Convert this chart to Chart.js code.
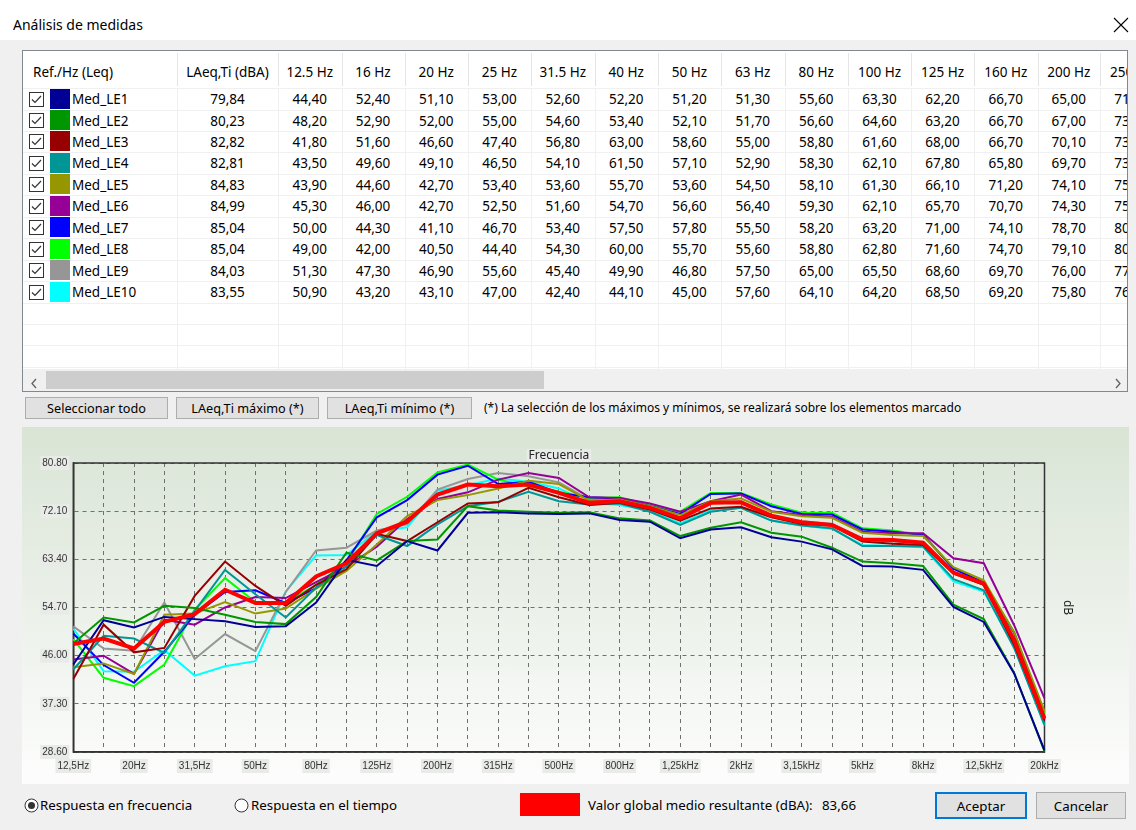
<!DOCTYPE html>
<html lang="es">
<head>
<meta charset="utf-8">
<title>Análisis de medidas</title>
<script src="https://cdn.jsdelivr.net/npm/chart.js@4.4.1/dist/chart.umd.min.js"></script>
<style>
  body { margin: 0; width: 1136px; height: 830px; background: #f0f0f0; font-family: "Noto Sans", sans-serif; color: #000; position: relative; overflow: hidden; }
  .abs { position: absolute; white-space: nowrap; }
  #titlebar { left: 0; top: 0; width: 1136px; height: 40px; background: #fff; }
  #grid { left: 22px; top: 50px; width: 1104px; height: 340px; border: 1px solid #828790; background: #fff; overflow: hidden; font-size: 13.5px; }
  .btn { background: #e1e1e1; border: 1px solid #adadad; box-sizing: border-box; font-size: 12.7px; display: flex; align-items: center; justify-content: center; }
  #panel { left: 22px; top: 427px; width: 1107px; height: 357px; background: linear-gradient(#d9e4d5, #fdfdfd); }
  .lbl { font-size: 13.3px; line-height: 20px; }
</style>
</head>
<body>
<div id="titlebar" class="abs">
  <div class="abs" style="left:13px; top:15px; font-size:14px;">Análisis de medidas</div>
  <svg class="abs" style="left:1113px; top:17px;" width="16" height="16"><path d="M1 1 L15 15 M15 1 L1 15" stroke="#000" stroke-width="1.1"/></svg>
</div>

<div id="grid" class="abs"></div>

<div class="abs btn" style="left:25px; top:397px; width:143px; height:22px;">Seleccionar todo</div>
<div class="abs btn" style="left:176px; top:397px; width:143px; height:22px;">LAeq,Ti máximo (*)</div>
<div class="abs btn" style="left:327px; top:397px; width:145px; height:22px;">LAeq,Ti mínimo (*)</div>
<div class="abs" style="left:484px; top:399px; font-size:12px;">(*) La selección de los máximos y mínimos, se realizará sobre los elementos marcado</div>

<div id="panel" class="abs"><canvas id="chart" width="1107" height="357"></canvas></div>

<svg class="abs" style="left:24px; top:798px;" width="15" height="15"><circle cx="7.5" cy="7.5" r="6.5" fill="#fff" stroke="#333"/><circle cx="7.5" cy="7.5" r="3.5" fill="#333"/></svg>
<div class="abs lbl" style="left:40px; top:795px;">Respuesta en frecuencia</div>
<svg class="abs" style="left:234px; top:798px;" width="15" height="15"><circle cx="7.5" cy="7.5" r="6.5" fill="#fff" stroke="#333"/></svg>
<div class="abs lbl" style="left:251px; top:795px;">Respuesta en el tiempo</div>
<div class="abs" style="left:520px; top:793px; width:60px; height:23px; background:#ff0000;"></div>
<div class="abs lbl" id="avgLabel" style="left:588px; top:795px;"></div>
<div class="abs lbl" id="avgValue" style="left:822px; top:795px;"></div>
<div class="abs btn" style="left:935px; top:792px; width:92px; height:27px; border:2px solid #0078d7; font-size:13.3px;">Aceptar</div>
<div class="abs btn" style="left:1036px; top:792px; width:90px; height:27px; font-size:13.3px;">Cancelar</div>

<script>
// Bandas de tercio de octava
const freqLabels = ['12,5Hz', '16Hz', '20Hz', '25Hz', '31,5Hz', '40Hz', '50Hz', '63Hz', '80Hz', '100Hz',
  '125Hz', '160Hz', '200Hz', '250Hz', '315Hz', '400Hz', '500Hz', '630Hz', '800Hz', '1kHz', '1,25kHz',
  '1,6kHz', '2kHz', '2,5kHz', '3,15kHz', '4kHz', '5kHz', '6,3kHz', '8kHz', '10kHz', '12,5kHz', '16kHz', '20kHz'];
const tableBands = ['12.5 Hz', '16 Hz', '20 Hz', '25 Hz', '31.5 Hz', '40 Hz', '50 Hz', '63 Hz', '80 Hz',
  '100 Hz', '125 Hz', '160 Hz', '200 Hz', '250 Hz'];

const seriesNames = ['Med_LE1', 'Med_LE2', 'Med_LE3', 'Med_LE4', 'Med_LE5', 'Med_LE6', 'Med_LE7', 'Med_LE8', 'Med_LE9', 'Med_LE10'];
const seriesColors = ['#000096', '#009600', '#960000', '#009696', '#969600', '#960096', '#0000ff', '#00ff00', '#969696', '#00ffff'];
const laeqTi = [79.84, 80.23, 82.82, 82.81, 84.83, 84.99, 85.04, 85.04, 84.03, 83.55];

const le1 = [44.4, 52.4, 51.1, 53.0, 52.6, 52.2, 51.2, 51.3, 55.6, 63.3, 62.2, 66.7, 65.0, 71.8, 71.9, 71.7, 71.6, 71.7, 70.5, 70.2, 67.2, 68.8, 69.2, 67.4, 66.6, 65.2, 62.2, 62.1, 61.5, 54.8, 52.1, 42.8, 28.9];
const le2 = [48.2, 52.9, 52.0, 55.0, 54.6, 53.4, 52.1, 51.7, 56.6, 64.6, 63.2, 66.7, 67.0, 73.0, 72.2, 72.0, 71.8, 71.9, 70.8, 70.4, 67.6, 69.1, 70.1, 68.2, 67.5, 65.5, 63.0, 62.7, 62.2, 55.2, 52.6, 42.9, 28.7];
const le3 = [41.8, 51.6, 46.6, 47.4, 56.8, 63.0, 58.6, 55.0, 58.8, 61.6, 68.0, 66.7, 70.1, 73.5, 73.7, 76.3, 74.6, 73.2, 73.6, 72.4, 70.4, 72.6, 72.9, 71.0, 69.8, 69.5, 66.6, 66.2, 66.0, 60.8, 58.8, 48.0, 34.3];
const le4 = [43.5, 49.6, 49.1, 46.5, 54.1, 61.5, 57.1, 52.9, 58.3, 62.1, 67.8, 65.8, 69.7, 73.0, 73.8, 75.6, 73.9, 73.3, 73.5, 72.0, 69.6, 72.0, 72.7, 70.4, 69.5, 69.0, 65.8, 65.8, 65.7, 59.8, 57.8, 47.4, 33.5];
const le5 = [43.9, 44.6, 42.7, 53.4, 53.6, 55.7, 53.6, 54.5, 58.1, 61.3, 66.1, 71.2, 74.1, 75.0, 76.2, 77.6, 77.0, 74.0, 74.2, 73.0, 71.4, 73.9, 74.4, 72.0, 71.2, 70.9, 68.2, 67.8, 67.6, 62.0, 59.6, 50.2, 36.0];
const le6 = [45.3, 46.0, 42.7, 52.5, 51.6, 54.7, 56.6, 56.4, 59.3, 62.1, 65.7, 70.7, 74.3, 75.5, 77.8, 79.0, 78.1, 74.6, 74.5, 73.5, 72.0, 73.9, 75.1, 72.1, 71.4, 71.1, 68.4, 68.1, 68.1, 63.6, 62.7, 51.5, 38.3];
const le7 = [50.0, 44.3, 41.1, 46.7, 53.4, 57.5, 57.8, 55.5, 58.2, 63.2, 71.0, 74.1, 78.7, 80.3, 77.0, 77.4, 75.4, 74.6, 74.4, 73.0, 71.6, 75.2, 75.3, 73.0, 71.6, 71.5, 68.8, 68.4, 67.8, 61.7, 59.2, 50.1, 34.8];
const le8 = [49.0, 42.0, 40.5, 44.4, 54.3, 60.0, 55.7, 55.6, 58.8, 62.8, 71.6, 74.7, 79.1, 80.5, 77.8, 76.6, 75.6, 74.5, 74.6, 73.2, 72.0, 75.4, 75.4, 73.3, 71.8, 71.8, 69.0, 68.6, 67.8, 61.8, 59.1, 50.3, 35.5];
const le9 = [51.3, 47.3, 46.9, 55.6, 45.4, 49.9, 46.8, 57.5, 65.0, 65.5, 68.6, 69.7, 76.0, 77.9, 79.0, 78.4, 77.3, 74.2, 73.9, 72.6, 70.9, 73.5, 73.9, 71.2, 70.3, 69.8, 67.0, 66.6, 66.3, 61.0, 58.8, 48.5, 34.5];
const le10 = [50.9, 43.2, 43.1, 47.0, 42.4, 44.1, 45.0, 57.6, 64.1, 64.2, 68.5, 69.2, 75.8, 76.8, 78.0, 77.4, 76.2, 73.6, 73.2, 72.2, 69.9, 72.3, 72.7, 70.4, 69.5, 68.9, 66.0, 65.8, 65.6, 59.4, 57.6, 47.6, 33.4];
const average = [48.1, 49.1, 47.3, 52.1, 53.5, 57.9, 55.5, 55.5, 60.3, 62.7, 68.1, 70.2, 75.1, 76.9, 76.6, 76.9, 75.4, 73.6, 73.9, 72.7, 70.8, 73.6, 73.7, 71.3, 70.1, 69.6, 67.0, 66.9, 66.4, 61.0, 59.0, 48.8, 34.6];
const averageGlobal = 83.66;

const yTicks = [28.6, 37.3, 46.0, 54.7, 63.4, 72.1, 80.8];

const series = [le1, le2, le3, le4, le5, le6, le7, le8, le9, le10];
const fmt = v => v.toFixed(2).replace('.', ',');

document.getElementById('avgLabel').textContent = 'Valor global medio resultante (dBA):';
document.getElementById('avgValue').textContent = fmt(averageGlobal);

// ---- Tabla ----
const grid = document.getElementById('grid');
const colEdges = [0, 154, 255, 318.5, 381.5, 445, 508, 571.5, 635, 698, 761.5, 825, 888, 951, 1014.5, 1077, 1140];
const headH = 37, rowH = 21.45, scrollTop = 318;

function el(css, html) {
  const d = document.createElement('div');
  d.className = 'abs';
  d.style.cssText = css;
  if (html !== undefined) d.innerHTML = html;
  grid.appendChild(d);
  return d;
}

// lineas
for (let i = 1; i < colEdges.length; i++) {
  el(`left:${colEdges[i]}px; top:2px; width:1px; height:${headH - 4}px; background:#e5e5e5;`);
  el(`left:${colEdges[i]}px; top:${headH}px; width:1px; height:${scrollTop - headH}px; background:#f0f0f0;`);
}
for (let r = 0; r <= 13; r++) {
  const y = headH + r * rowH;
  if (y < scrollTop) el(`left:0; top:${y.toFixed(1)}px; width:1104px; height:1px; background:#f0f0f0;`);
}

// cabecera
const headers = ['Ref./Hz (Leq)', 'LAeq,Ti (dBA)'].concat(tableBands);
headers.forEach((h, c) => {
  const x0 = colEdges[c], w = colEdges[c + 1] - colEdges[c];
  if (c === 0) el(`left:10px; top:3px; height:${headH}px; line-height:${headH}px;`, h);
  else el(`left:${x0}px; top:3px; width:${w}px; height:${headH}px; line-height:${headH}px; text-align:center;`, h);
});

// filas
const check = '<svg width="15" height="15"><rect x="0.5" y="0.5" width="14" height="14" fill="#fff" stroke="#333"/><polyline points="3,7.5 6,10.5 12,4" fill="none" stroke="#333" stroke-width="1.2"/></svg>';
series.forEach((s, r) => {
  const y = headH + r * rowH;
  el(`left:6px; top:${(y + 3.5).toFixed(1)}px; width:15px; height:15px;`, check);
  el(`left:27px; top:${(y + 0.5).toFixed(1)}px; width:20px; height:20px; background:${seriesColors[r]};`);
  el(`left:49px; top:${(y + 1).toFixed(1)}px; height:${rowH}px; line-height:${rowH}px;`, seriesNames[r]);
  const cells = [laeqTi[r]].concat(s.slice(0, tableBands.length));
  cells.forEach((v, k) => {
    const c = k + 1, x0 = colEdges[c], w = colEdges[c + 1] - colEdges[c];
    el(`left:${x0}px; top:${(y + 1).toFixed(1)}px; width:${w}px; height:${rowH}px; line-height:${rowH}px; text-align:center;`, fmt(v));
  });
});

// barra de desplazamiento
el(`left:0; top:${scrollTop}px; width:1104px; height:22px; background:#f0f0f0;`);
el(`left:23px; top:${scrollTop + 2}px; width:498px; height:18px; background:#cdcdcd;`);
el(`left:6px; top:${scrollTop + 6}px; width:10px; height:11px;`, '<svg width="10" height="11"><polyline points="7,1 3,5.5 7,10" fill="none" stroke="#606060" stroke-width="1.3"/></svg>');
el(`left:1090px; top:${scrollTop + 6}px; width:10px; height:11px;`, '<svg width="10" height="11"><polyline points="3,1 7,5.5 3,10" fill="none" stroke="#606060" stroke-width="1.3"/></svg>');

// ---- Grafico ----
const datasets = series.map((s, i) => ({
  label: seriesNames[i],
  data: s,
  borderColor: seriesColors[i],
  borderWidth: 2,
  pointRadius: 0,
  tension: 0,
  order: 1
}));
datasets.push({
  label: 'Media',
  data: average,
  borderColor: '#ff0000',
  borderWidth: 4,
  pointRadius: 0,
  tension: 0,
  order: 0
});

const tickFont = { family: 'Liberation Sans', size: 10 };
const backdrop = '#e8ebe7';

const decorPlugin = {
  id: 'decor',
  beforeDatasetsDraw(chart) {
    const { ctx, chartArea: a } = chart;
    ctx.save();
    ctx.strokeStyle = '#333';
    ctx.lineWidth = 1.5;
    ctx.strokeRect(a.left, a.top, a.right - a.left, a.bottom - a.top);
    ctx.restore();
  },
  afterDraw(chart) {
    const { ctx, chartArea: a } = chart;
    ctx.save();
    ctx.font = '12px "Noto Sans"';
    ctx.textAlign = 'center';
    ctx.textBaseline = 'middle';
    const cx = (a.left + a.right) / 2;
    const w = ctx.measureText('Frecuencia').width;
    ctx.fillStyle = backdrop;
    ctx.fillRect(cx - w / 2 - 2, a.top - 14, w + 4, 13);
    ctx.fillStyle = '#222';
    ctx.fillText('Frecuencia', cx, a.top - 7);
    ctx.translate(a.right + 23, (a.top + a.bottom) / 2);
    ctx.rotate(Math.PI / 2);
    ctx.fillStyle = '#222';
    ctx.fillText('dB', 0, 0);
    ctx.restore();
  }
};

new Chart(document.getElementById('chart').getContext('2d'), {
  type: 'line',
  data: { labels: freqLabels, datasets: datasets },
  options: {
    responsive: false,
    animation: false,
    devicePixelRatio: 1,
    layout: { padding: { top: 36, right: 84.5, left: 0, bottom: 0 } },
    plugins: { legend: { display: false }, tooltip: { enabled: false } },
    scales: {
      x: {
        offset: false,
        grid: { color: '#707070', lineWidth: 1, drawTicks: false },
        border: { display: true, color: '#333', width: 1.5, dash: [4, 4] },
        ticks: {
          autoSkip: false, maxRotation: 0, padding: 8, color: '#333', font: tickFont,
          callback: (v, i) => (i % 2 === 0 ? freqLabels[i] : ''),
          showLabelBackdrop: true,
          backdropColor: c => (c.index % 2 === 0 ? backdrop : 'rgba(0,0,0,0)'),
          backdropPadding: { x: 2, y: 1 }
        },
        afterFit: s => { s.height = 32; }
      },
      y: {
        min: 28.6,
        max: 80.8,
        afterBuildTicks: s => { s.ticks = yTicks.map(v => ({ value: v })); },
        grid: { color: '#707070', lineWidth: 1, drawTicks: false },
        border: { display: true, color: '#333', width: 1.5, dash: [4, 4] },
        ticks: {
          padding: 6, color: '#333', font: tickFont,
          callback: v => Number(v).toFixed(2),
          showLabelBackdrop: true, backdropColor: backdrop, backdropPadding: { x: 2, y: 1 }
        },
        afterFit: s => { s.width = 51.3; }
      }
    }
  },
  plugins: [decorPlugin]
});
</script>
</body>
</html>
